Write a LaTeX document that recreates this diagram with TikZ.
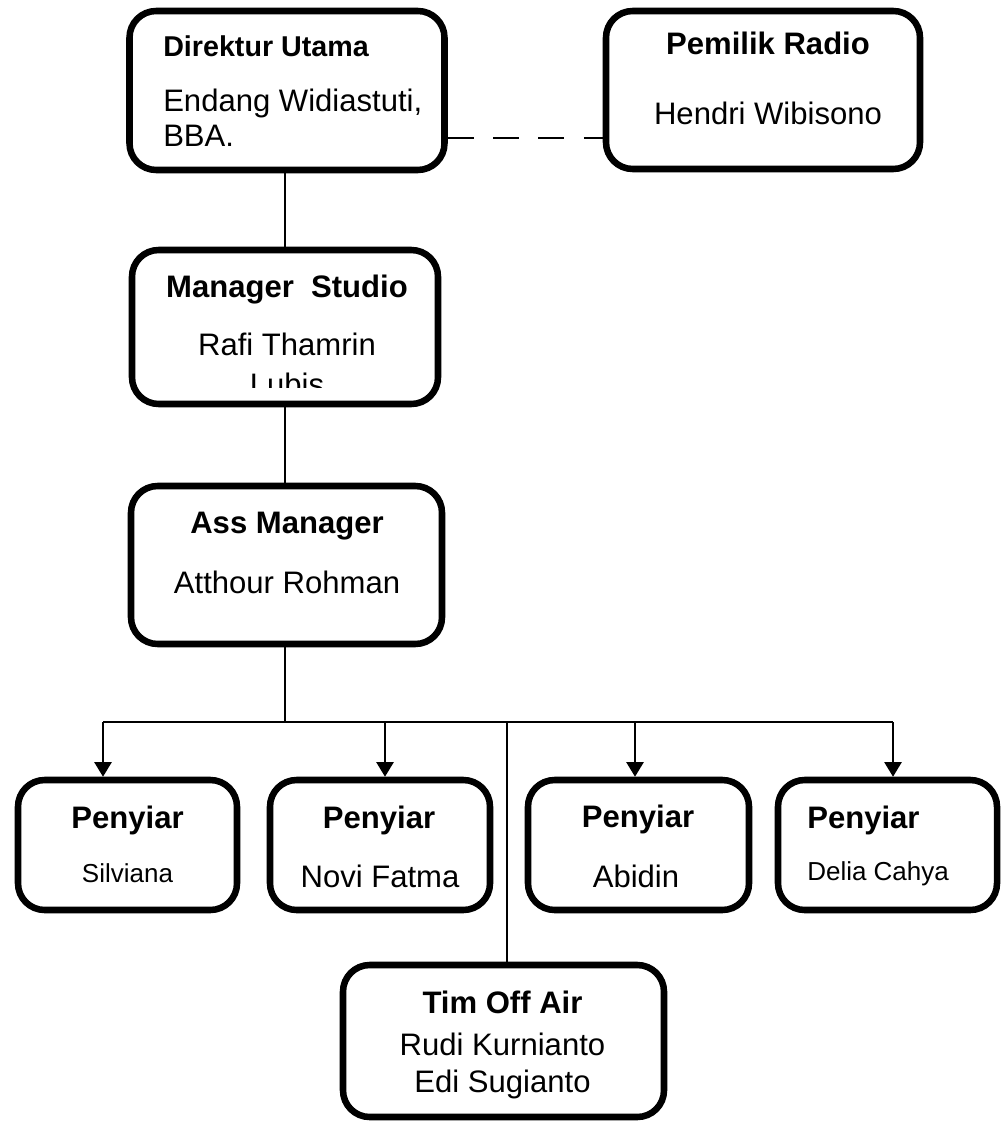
\documentclass[tikz,border=0pt]{standalone}
\usepackage{fontspec}
\setmainfont{Liberation Sans}
\usetikzlibrary{arrows.meta}
\newcommand\txtreg{\fontsize{23.3pt}{28pt}\selectfont}
\newcommand\txtbold{\fontsize{23.3pt}{28pt}\selectfont\bfseries}
\newcommand\txtdir{\fontsize{21.5pt}{26pt}\selectfont\bfseries}
\newcommand\txtsmall{\fontsize{19.5pt}{24pt}\selectfont}
\newcommand\orgbox[5]{\node[box, minimum width=#4*0.75pt, minimum height=#5*0.75pt] (#1) at (#2,#3) {};}
\begin{document}
\begin{tikzpicture}[x=0.75pt,y=-0.75pt,
  box/.style={draw, line width=4.9pt, rounded corners=20pt, inner sep=0pt, fill=white},
  conn/.style={line width=1.2pt},
  arr/.style={conn, -{Triangle[width=13pt,length=11pt]}},
  dashline/.style={conn, dash pattern=on 19.5pt off 14.5pt},
  tc/.style={anchor=base, inner sep=0pt},
  tl/.style={anchor=base west, inner sep=0pt}]
\useasboundingbox (0,0) rectangle (1005,1123);

% boxes
\orgbox{dir}{287}{90.5}{315}{159}
\orgbox{own}{763}{90}{314}{158}
\orgbox{mgr}{285}{327}{306}{154}
\orgbox{ass}{286.5}{565}{311}{158}
\orgbox{p1}{127.5}{845}{219}{130}
\orgbox{p2}{380}{845}{220}{130}
\orgbox{p3}{638.5}{845}{221}{130}
\orgbox{p4}{887.5}{845}{219}{130}
\orgbox{tim}{503.5}{1041}{321}{152}

% coordinates
\coordinate (dl) at (0,138);
\coordinate (vx) at (285,0);
\coordinate (b1) at (103,722);
\coordinate (b2) at (385,722);
\coordinate (bt) at (507,722);
\coordinate (b3) at (635,722);
\coordinate (b4) at (893,722);

% connectors
\draw[dashline] (dir.east |- dl) -- (own.west |- dl);
\draw[conn] (dir.south -| vx) -- (mgr.north -| vx);
\draw[conn] (mgr.south -| vx) -- (ass.north -| vx);
\draw[conn] (ass.south -| vx) -- (vx |- b1);
\draw[conn] (b1) -- (b4);
\draw[arr] (b1) -- (b1 |- p1.north);
\draw[arr] (b2) -- (b2 |- p2.north);
\draw[arr] (b3) -- (b3 |- p3.north);
\draw[arr] (b4) -- (b4 |- p4.north);
\draw[conn] (bt) -- (bt |- tim.north);

% texts
\node[tl, font=\txtdir] (t1) at (163,57) {Direktur Utama};
\node[tl, font=\txtreg] (t2) at (163,112) {Endang Widiastuti,};
\node[tl, font=\txtreg] (t3) at (163,147) {BBA.};

\node[tc, font=\txtbold] (t4) at (768,55) {Pemilik Radio};
\node[tc, font=\txtreg] (t5) at (768,125) {Hendri Wibisono};

\node[tc, font=\txtbold] (t6) at (287,297) {Manager~~Studio};
\node[tc, font=\txtreg] (t7) at (287,355) {Rafi Thamrin};
\begin{scope}
\clip (131,250) rectangle (437,387);
\node[tc, font=\txtreg] (t8) at (287,395) {Lubis};
\end{scope}

\node[tc, font=\txtbold] (t9) at (287,533) {Ass Manager};
\node[tc, font=\txtreg] (t10) at (287,593) {Atthour Rohman};

\node[tc, font=\txtbold] (t11) at (127.5,828) {Penyiar};
\node[tc, font=\txtsmall] (t12) at (127.5,882) {Silviana};
\node[tc, font=\txtbold] (t13) at (379,828) {Penyiar};
\node[tc, font=\txtreg] (t14) at (380,887) {Novi Fatma};
\node[tc, font=\txtbold] (t15) at (638,827) {Penyiar};
\node[tc, font=\txtreg] (t16) at (636,887) {Abidin};
\node[tl, font=\txtbold] (t17) at (807,828) {Penyiar};
\node[tl, font=\txtsmall] (t18) at (807,880) {Delia Cahya};

\node[tc, font=\txtbold] (t19) at (502.5,1013) {Tim Off Air};
\node[tc, font=\txtreg] (t20) at (502.5,1055) {Rudi Kurnianto};
\node[tc, font=\txtreg] (t21) at (502.5,1092) {Edi Sugianto};
\end{tikzpicture}
\end{document}
